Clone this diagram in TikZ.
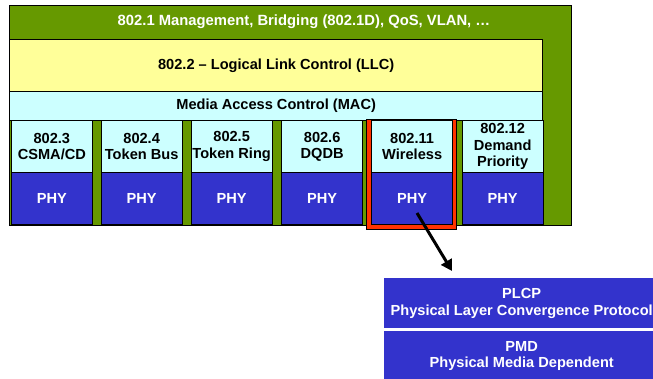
\documentclass[tikz,border=0pt]{standalone}
\usepackage{fontspec}
\setmainfont{Liberation Sans}
\usetikzlibrary{arrows.meta}
\definecolor{grn}{HTML}{669900}
\definecolor{llc}{HTML}{FFFF99}
\definecolor{mac}{HTML}{CCFFFF}
\definecolor{phyb}{HTML}{3333CC}
\definecolor{redf}{HTML}{FF3300}
\begin{document}
\begin{tikzpicture}[x=1pt,y=-1pt,
  lbl/.style={font=\fontsize{14.6}{16.5}\selectfont\bfseries, inner sep=0pt, align=center},
  topbox/.style={draw=black, line width=1.3pt, fill=mac, inner sep=0pt, minimum width=81pt, minimum height=52pt, lbl},
  phybox/.style={draw=black, line width=1.3pt, fill=phyb, inner sep=0pt, minimum width=81pt, minimum height=52pt, lbl, text=white},
  subbox/.style={fill=phyb, inner sep=0pt, minimum width=276pt, lbl, text=white}
]
\useasboundingbox (0,0) rectangle (653,378);
\clip (0,0) rectangle (653,378);
% green management block
\node[draw=black, line width=1pt, fill=grn, minimum width=562pt, minimum height=220pt, anchor=north west, inner sep=0pt] (mgmt) at (8.5,5) {};
\node[lbl, font=\fontsize{14.8}{16}\selectfont\bfseries, text=white] (mgmttxt) at (304,22) {802.1 Management, Bridging (802.1D), QoS, VLAN, \dots};
% LLC
\node[draw=black, line width=1.3pt, fill=llc, minimum width=533pt, minimum height=53pt, anchor=north west, inner sep=0pt, lbl] (llc) at (9,38.5) {802.2 -- Logical Link Control (LLC)};
% MAC
\node[draw=black, line width=1.3pt, fill=mac, minimum width=533pt, minimum height=28.5pt, anchor=north west, inner sep=0pt, lbl] (mac) at (9,91) {Media Access Control (MAC)};
% red frame around 802.11
\node[draw=black, line width=0.6pt, fill=redf, minimum width=90pt, minimum height=110pt, anchor=north west, inner sep=0pt] (redframe) at (366,119) {};
% columns
\foreach \i/\x/\t in {1/10.7/{802.3\\CSMA/CD}, 2/100.5/{802.4\\Token Bus}, 3/190.5/{802.5\\Token Ring}, 4/281/{802.6\\DQDB}, 5/371/{802.11\\Wireless}, 6/461.5/{802.12\\Demand\\Priority}}{
  \node[topbox, anchor=north west] (top\i) at (\x,120) {\t};
  \node[phybox, anchor=north west] (phy\i) at (\x,172) {PHY};
}
% arrow
\coordinate (arrS) at (417,213);
\coordinate (arrE) at (452,271);
\draw[line width=3pt, -{Triangle[length=11pt,width=12pt]}] (arrS) -- (arrE);
% sub layers
\node[subbox, minimum height=50pt, anchor=north west] (plcp) at (383.5,278) {PLCP\\Physical Layer Convergence Protocol};
\node[subbox, minimum height=50pt, anchor=north west] (pmd) at (383.5,331) {PMD\\Physical Media Dependent};
\end{tikzpicture}
\end{document}
